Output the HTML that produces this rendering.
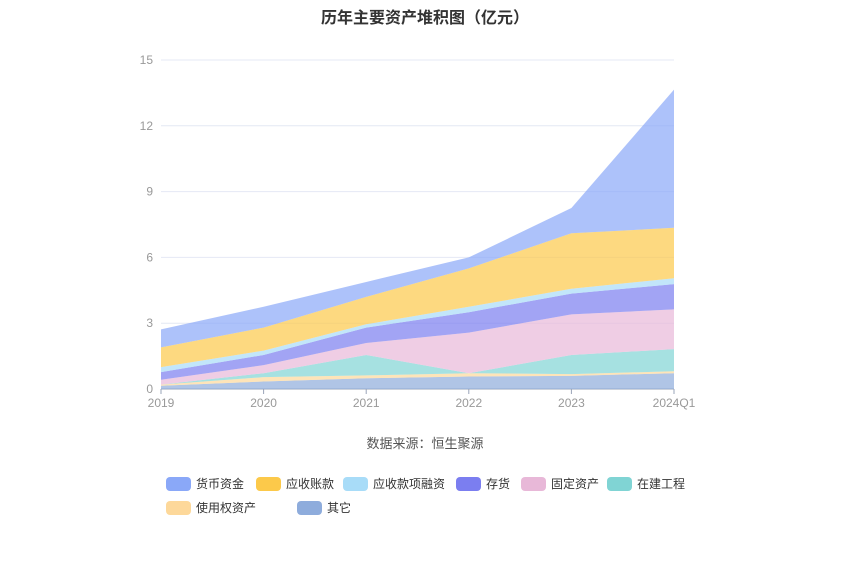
<!DOCTYPE html>
<html><head><meta charset="utf-8">
<style>
body{margin:0;background:#fff;font-family:"Liberation Sans","Noto Sans CJK SC",sans-serif;}
#wrap{position:relative;width:850px;height:576px;overflow:hidden;}
.title{position:absolute;left:0;width:850px;top:4px;text-align:center;font-size:16px;font-weight:bold;color:#333;}
.src{position:absolute;left:0;width:850px;top:433px;text-align:center;font-size:13px;color:#555;}
.leg{position:absolute;display:flex;align-items:center;font-size:12px;color:#333;cursor:pointer;}
.sw{width:25px;height:14px;border-radius:4px;margin-right:5px;}
</style></head><body>
<div id="wrap">
<div class="title">历年主要资产堆积图（亿元）</div>
<svg id="chart" width="850" height="576" style="position:absolute;left:0;top:0"></svg>
<div class="src">数据来源：恒生聚源</div>
<div id="legend"></div>
</div>
<script>
const categories=["2019","2020","2021","2022","2023","2024Q1"];
const yTicks=[0,3,6,9,12,15];
const seriesNames=["其它","使用权资产","在建工程","固定资产","存货","应收款项融资","应收账款","货币资金"];
const sOther=[0.15,0.34,0.49,0.57,0.6,0.72];
const sROU=[0.05,0.2,0.13,0.15,0.08,0.09];
const sCIP=[0,0.18,0.93,0,0.87,1.01];
const sFixed=[0.22,0.37,0.55,1.85,1.85,1.81];
const sInv=[0.35,0.46,0.7,0.93,0.95,1.15];
const sARFin=[0.23,0.2,0.15,0.25,0.22,0.27];
const sAR=[0.9,1.05,1.25,1.75,2.53,2.3];
const sCash=[0.82,0.95,0.68,0.5,1.15,6.3];
const seriesVals=[sOther,sROU,sCIP,sFixed,sInv,sARFin,sAR,sCash];
const colors=["#8eacdc","#fdd89a","#80d4d4","#e8b8d8","#7b7ef0","#a8dcf8","#fcc94a","#8aa8f8"];
const X0=161,X1=674,Y0=389,Y1=60,YMAX=15;
const xs=i=>X0+(X1-X0)*i/(categories.length-1);
const ys=v=>Y0-(Y0-Y1)*v/YMAX;
const svg=document.getElementById('chart');const NS="http://www.w3.org/2000/svg";
function mk(t,a){const e=document.createElementNS(NS,t);for(const k in a)e.setAttribute(k,a[k]);svg.appendChild(e);return e;}
yTicks.forEach(t=>{
 const l=mk('line',{x1:X0,x2:X1,y1:ys(t),y2:ys(t),stroke:t==0?'#9aa4b8':'#e4e8f4','stroke-width':1});
 
 
 const tx=mk('text',{x:X0-8,y:ys(t)+4,'text-anchor':'end','font-size':12,fill:'#999'});tx.textContent=t;
 
 
});
categories.forEach((c,i)=>{
 const tk=mk('line',{x1:xs(i),x2:xs(i),y1:Y0,y2:Y0+5,stroke:'#9aa4b8'});
 
 
 const tx=mk('text',{x:xs(i),y:Y0+18,'text-anchor':'middle','font-size':12,fill:'#999'});tx.textContent=c;
 
 
});
let cum=categories.map(()=>0);
seriesVals.forEach((vals,s)=>{
 const low=cum.slice();const high=cum.map((v,i)=>v+vals[i]);
 let d='M'+high.map((v,i)=>xs(i)+','+ys(v)).join('L');
 for(let i=low.length-1;i>=0;i--)d+='L'+xs(i)+','+ys(low[i]);
 d+='Z';
 const p=mk('path',{d:d,fill:colors[s],'fill-opacity':0.7,stroke:'none'});
 
 
 cum=high;
});
const legendItems=[["货币资金",7,166,483],["应收账款",6,256,483],["应收款项融资",5,343,483],["存货",4,456,483],["固定资产",3,521,483],["在建工程",2,607,483],["使用权资产",1,166,507],["其它",0,297,507]];
const lg=document.getElementById('legend');
legendItems.forEach(it=>{
 const d=document.createElement('div');d.className='leg';
 d.style.left=it[2]+'px';d.style.top=(it[3]-8)+'px';
 d.innerHTML='<div class="sw" style="background:'+colors[it[1]]+'"></div><span>'+it[0]+'</span>';
 
 
 lg.appendChild(d);
});
</script>
</body></html>
